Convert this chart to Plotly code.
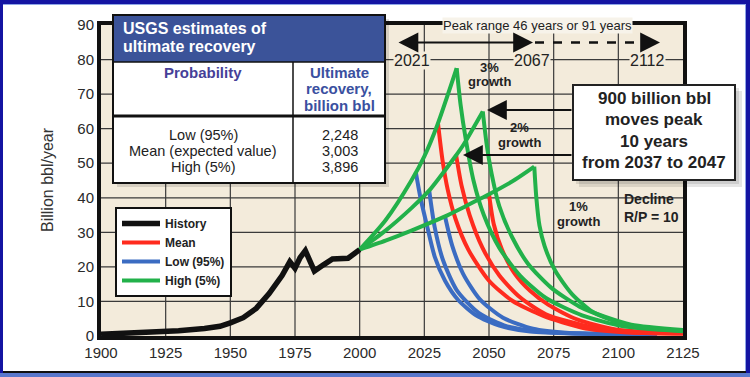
import plotly.graph_objects as go

# ---------------- data ----------------
hist_years = [1900, 1910, 1920, 1930, 1940, 1946, 1950, 1955, 1960, 1965, 1970, 1973, 1975, 1977, 1979, 1982.5, 1986, 1989.5, 1995.5, 2000]
hist_vals = [0.5, 0.8, 1.1, 1.5, 2.2, 2.8, 3.8, 5.3, 8.0, 12.3, 17.5, 21.5, 19.6, 22.7, 24.7, 18.8, 20.6, 22.3, 22.5, 25.0]

# growth phases (drawn green, shared by all recovery cases)
g3_years = [2000, 2010, 2020, 2025, 2030, 2037.5]
g3_vals = [25, 33.5, 45, 52, 61, 77.5]
g2_years = [2000, 2010, 2020, 2027, 2030, 2037.3, 2040, 2047.6]
g2_vals = [25, 30.5, 37, 42.2, 45, 52.3, 55.2, 65]
g1_years = [2000, 2010, 2020, 2033, 2040, 2050, 2060, 2067.5]
g1_vals = [25, 27.6, 30.5, 34.6, 37.2, 41, 45.2, 49]

# decline phases, R/P = 10
low3_years = [2021.7, 2023.5, 2026, 2029, 2033, 2038, 2045, 2054, 2066, 2085, 2105]
low3_vals = [47.4, 40, 32, 23, 16, 10.5, 6, 3, 1.3, 0.7, 0.5]
low2_years = [2026.9, 2029, 2032.2, 2037.5, 2046, 2057, 2075, 2095, 2110]
low2_vals = [42, 31.5, 22, 13.3, 6.7, 2.8, 1.0, 0.6, 0.5]
low1_years = [2033, 2035.8, 2040, 2046.4, 2055.4, 2067, 2081, 2100, 2115]
low1_vals = [34.6, 26.1, 18, 10.7, 5.3, 2.1, 0.9, 0.6, 0.5]

mean3_years = [2030.3, 2032, 2034, 2037, 2042, 2050, 2059, 2071, 2086, 2102, 2125]
mean3_vals = [61.4, 51, 42.5, 34, 25, 16, 10.2, 5.8, 2.4, 1.1, 0.7]
mean2_years = [2037.3, 2039.4, 2042.5, 2047.5, 2054, 2062, 2072, 2090, 2107, 2125]
mean2_vals = [52.3, 43.5, 35, 25.5, 17.5, 11.2, 6.3, 2.5, 1.0, 0.7]
mean1_years = [2050, 2051.8, 2055, 2060, 2066, 2073, 2084, 2099, 2125]
mean1_vals = [41, 32.5, 25, 18, 13, 9, 4.8, 1.9, 0.8]

high3_years = [2037.5, 2039, 2041, 2044, 2048, 2054, 2062, 2072, 2086, 2102, 2125]
high3_vals = [77.5, 67, 57, 45, 35, 25.5, 17.5, 11, 6, 2.8, 1.4]
high2_years = [2047.6, 2049, 2051, 2054, 2059, 2065, 2074, 2085, 2095, 2105, 2125]
high2_vals = [65, 56, 47, 37.5, 28.5, 21, 14, 8.5, 5.5, 3.3, 1.7]
high1_years = [2067.5, 2068.3, 2069.5, 2071.5, 2075.5, 2082, 2090, 2100, 2112, 2125]
high1_vals = [49, 40, 32, 26, 19, 12.2, 7, 3.9, 2.2, 1.6]

x_ticks = [1900, 1925, 1950, 1975, 2000, 2025, 2050, 2075, 2100, 2125]
y_ticks = [0, 10, 20, 30, 40, 50, 60, 70, 80, 90]

table_rows = ["Low (95%)", "Mean (expected value)", "High (5%)"]
table_vals = ["2,248", "3,003", "3,896"]

# ---------------- styling / layout helpers ----------------
W, H = 750, 377
L, R, T, B = 101, 683, 25, 336
FONT = "Liberation Sans, Arial, sans-serif"
GREEN = "#22b14a"
RED = "#ff2b1e"
BLUE = "#3b6cc2"
DARK = "#222222"
FRAME_BLUE = "#1414a2"
GRID = "#3a3a3a"


def px(X):
    return (X - L) / (R - L)


def py(Y):
    return (B - Y) / (B - T)


fig = go.Figure()

# grid drawn as a background trace built from the tick arrays
gx, gy = [], []
for xv in x_ticks[1:-1]:
    gx += [xv, xv, None]
    gy += [y_ticks[0], y_ticks[-1], None]
for yv in y_ticks[1:-1]:
    gx += [x_ticks[0], x_ticks[-1], None]
    gy += [yv, yv, None]
fig.add_trace(go.Scatter(x=gx, y=gy, mode="lines", showlegend=False, hoverinfo="skip",
                         line=dict(color=GRID, width=1.2), connectgaps=False))


def add_curve(xs, ys, color, name=None, show=False, rank=None, width=4, shape="spline"):
    fig.add_trace(go.Scatter(
        x=xs, y=ys, mode="lines", name=name, showlegend=show,
        legendrank=rank if rank else 1000,
        line=dict(color=color, width=width, shape=shape, smoothing=0.7),
        hoverinfo="skip"))


# blue (low) declines
add_curve(low3_years, low3_vals, BLUE, "Low (95%)", True, 3)
add_curve(low2_years, low2_vals, BLUE)
add_curve(low1_years, low1_vals, BLUE)
# red (mean) declines
add_curve(mean3_years, mean3_vals, RED, "Mean", True, 2)
add_curve(mean2_years, mean2_vals, RED)
add_curve(mean1_years, mean1_vals, RED)
# green (high) declines and growth phases
add_curve(high3_years, high3_vals, GREEN, "High (5%)", True, 4)
add_curve(high2_years, high2_vals, GREEN)
add_curve(high1_years, high1_vals, GREEN)
add_curve(g1_years, g1_vals, GREEN)
add_curve(g2_years, g2_vals, GREEN)
add_curve(g3_years, g3_vals, GREEN)
# history
add_curve(hist_years, hist_vals, "#111111", "History", True, 1, width=5.5, shape="linear")

shapes = []


def rect(X0, Y0, X1, Y1, fill, lc="rgba(0,0,0,0)", lw=0, layer="above"):
    shapes.append(dict(type="rect", xref="paper", yref="paper",
                       x0=px(X0), x1=px(X1), y0=py(Y1), y1=py(Y0),
                       fillcolor=fill, line=dict(color=lc, width=lw), layer=layer))


def line(X0, Y0, X1, Y1, color, w, dash="solid", layer="above"):
    shapes.append(dict(type="line", xref="paper", yref="paper",
                       x0=px(X0), x1=px(X1), y0=py(Y0), y1=py(Y1),
                       line=dict(color=color, width=w, dash=dash), layer=layer))


# page frame (blue border, drawn only in the margins)
rect(0, 0, 750, 4, FRAME_BLUE)
rect(0, 0, 3, 377, FRAME_BLUE)
rect(746, 0, 750, 377, FRAME_BLUE)
rect(0, 373, 750, 377, "#5a78cc")
line(3, 4.5, 746, 4.5, "#8ea6e6", 1)
line(745.5, 4, 745.5, 372, "#8ea6e6", 1)
line(3, 372, 746, 372, "#111111", 2)

# table
rect(117, 19, 389, 187, "rgba(0,0,0,0.12)")
rect(113, 15, 385, 183, "white", "#111111", 2)
rect(114, 16, 384, 62, "#3b5399")
line(113, 62, 385, 62, "#111111", 1.5)
line(293, 62, 293, 183, "#111111", 1.5)
line(113, 116, 385, 116, "#111111", 3)

# callout box with shadow
rect(579, 91, 742, 187, "rgba(0,0,0,0.10)")
rect(576, 88, 739, 184, "rgba(0,0,0,0.10)")
rect(573, 85, 735, 180, "white", "#222222", 2)

# dashed part of the peak-range arrow
line(535, 42.5, 646, 42.5, "#111111", 2.5, dash="dash")

annotations = []


def text(X, Y, s, size, bold=False, color=DARK, xanchor="center", bg=None):
    annotations.append(dict(
        xref="paper", yref="paper", x=px(X), y=py(Y), text=s, showarrow=False,
        xanchor=xanchor, yanchor="middle",
        font=dict(family=FONT, size=size, color=color, weight="bold" if bold else "normal"),
        bgcolor=bg, borderpad=0))


def arrow(Xtip, Ytip, Xtail, Ytail, both=False):
    d = dict(xref="paper", yref="paper", x=px(Xtip), y=py(Ytip), ax=Xtail - Xtip, ay=Ytail - Ytip,
             axref="pixel", ayref="pixel", text="", showarrow=True,
             arrowhead=2, arrowsize=1.8, arrowwidth=2.2, arrowcolor="#111111")
    if both:
        d.update(arrowside="end+start", startarrowhead=2, startarrowsize=1.8)
    annotations.append(d)


# table texts
text(122, 28.5, "USGS estimates of", 16, True, "white", xanchor="left")
text(122, 46, "ultimate recovery", 16, True, "white", xanchor="left")
text(203, 72, "Probability", 15, True, "#463f98")
text(339, 72, "Ultimate", 15, True, "#3a50a0")
text(339, 88.5, "recovery,", 15, True, "#3a50a0")
text(339, 105, "billion bbl", 15, True, "#3a50a0")
for i, (r_, v_) in enumerate(zip(table_rows, table_vals)):
    text(203, 134.5 + 16 * i, r_, 14.5)
    text(340, 134.5 + 16 * i, v_, 14.5)

# peak range
text(537, 25, "Peak range 46 years or 91 years", 13, bg="#f7f3ea")
text(412, 61, "2021", 16, bg="#f3ebdb")
text(532, 61, "2067", 16, bg="#f3ebdb")
text(647, 61, "2112", 16, bg="#f3ebdb")
arrow(533, 42.5, 397, 42.5, both=True)
arrow(660, 42.5, 646, 42.5)

# growth labels
text(489, 67.5, "3%", 13, True)
text(489, 82, "growth", 13, True)
text(519, 127.5, "2%", 13, True)
text(519, 142.5, "growth", 13, True)
text(578, 207, "1%", 13, True)
text(578, 221.5, "growth", 13, True)
text(623, 199, "Decline", 14, True, xanchor="left")
text(623, 217, "R/P = 10", 14, True, xanchor="left")

# callout text + arrows
for i, s in enumerate(["900 billion bbl", "moves peak", "10 years", "from 2037 to 2047"]):
    text(654, 98 + 21.5 * i, s, 17, True)
arrow(487, 110, 573, 110)
arrow(463, 155, 573, 155)

# y axis title
annotations.append(dict(xref="paper", yref="paper", x=px(47), y=py(180), text="Billion bbl/year",
                        textangle=-90, showarrow=False, xanchor="center", yanchor="middle",
                        font=dict(family=FONT, size=16, color="#333333")))

fig.update_layout(
    width=W, height=H,
    margin=dict(l=L, r=W - R, t=T, b=H - B, pad=0),
    paper_bgcolor="white",
    plot_bgcolor="#f3ebdb",
    font=dict(family=FONT, color=DARK),
    shapes=shapes,
    annotations=annotations,
    legend=dict(x=px(115), y=py(207), xanchor="left", yanchor="top",
                bgcolor="white", bordercolor="#111111", borderwidth=2,
                font=dict(family=FONT, size=12, color=DARK, weight="bold"),
                tracegroupgap=0, traceorder="normal", itemwidth=38),
    xaxis=dict(range=[1900, 2125], tickvals=x_ticks, ticktext=[str(v) for v in x_ticks],
               showgrid=False, zeroline=False,
               showline=True, linecolor="#111111", linewidth=4, mirror=True,
               ticks="", tickfont=dict(family=FONT, size=15, color="#2a2a2a")),
    yaxis=dict(range=[0, 90], tickvals=y_ticks, ticktext=[str(v) for v in y_ticks],
               showgrid=False, zeroline=False,
               showline=True, linecolor="#111111", linewidth=4, mirror=True,
               ticks="", tickfont=dict(family=FONT, size=15, color="#2a2a2a")),
)

fig.write_html("out.html", config={"displayModeBar": False},
               post_script="document.body.style.margin='0px';")
